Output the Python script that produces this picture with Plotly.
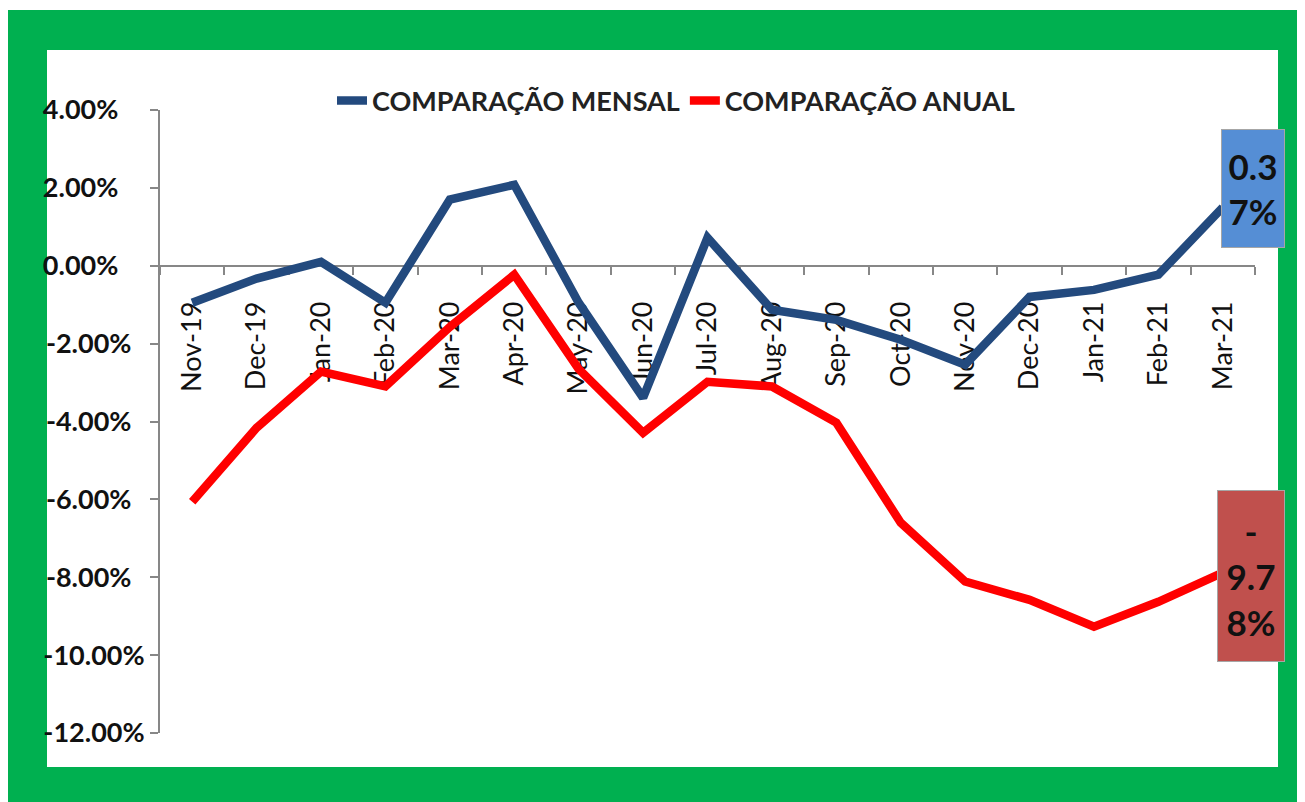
import plotly.graph_objects as go

months = ["Nov-19", "Dec-19", "Jan-20", "Feb-20", "Mar-20", "Apr-20", "May-20", "Jun-20",
          "Jul-20", "Aug-20", "Sep-20", "Oct-20", "Nov-20", "Dec-20", "Jan-21", "Feb-21", "Mar-21"]
mensal = [-0.95, -0.33, 0.10, -0.95, 1.70, 2.08, -0.95, -3.39, 0.72, -1.13,
          -1.39, -1.90, -2.54, -0.80, -0.62, -0.23, 1.50]
anual = [-6.06, -4.16, -2.72, -3.10, -1.57, -0.23, -2.65, -4.29, -2.98, -3.10,
         -4.03, -6.60, -8.11, -8.58, -9.27, -8.63, -7.88]
y_ticks = [4, 2, 0, -2, -4, -6, -8, -10, -12]
y_tick_text = ["4.00%", "2.00%", "0.00%", "-2.00%", "-4.00%", "-6.00%", "-8.00%", "-10.00%", "-12.00%"]
mensal_label = "0.3<br>7%"
anual_label = "-<br>9.7<br>8%"

# the page has an 8px body margin, so the figure is made 8px smaller
W, H = 1297, 794
L, R, T, B = 152, 50, 102, 69
PW, PH = W - L - R, H - T - B


def px(x):
    # screen x -> paper fraction
    return (x - 8 - L) / PW


def py(y):
    # screen y -> paper fraction
    return (H - B - (y - 8)) / PH


FONT = "Lato"
AXIS_GREY = "#878787"

# Excel left-aligns the y labels here, pad the short ones
longest = max(len(t) for t in y_tick_text)
y_tick_padded = [t + "\u00a0" * round(2.0 * (longest - len(t))) for t in y_tick_text]

fig = go.Figure()

fig.add_trace(go.Scatter(
    x=months, y=mensal, mode="lines", name="COMPARAÇÃO MENSAL",
    line=dict(color="#234A7E", width=8.5),
))
fig.add_trace(go.Scatter(
    x=months, y=anual, mode="lines", name="COMPARAÇÃO ANUAL",
    line=dict(color="#FF0000", width=8.5),
))

# green frame
fig.add_shape(type="rect", xref="paper", yref="paper",
              x0=px(7), x1=px(1297), y0=py(810), y1=py(10),
              fillcolor="#00B050", line_width=0, layer="below")
fig.add_shape(type="rect", xref="paper", yref="paper",
              x0=px(47), x1=px(1278), y0=py(767), y1=py(50),
              fillcolor="white", line_width=0, layer="below")

# end-point data labels
fig.add_annotation(
    x=months[-1], y=mensal[-1], xref="x", yref="y", text=mensal_label,
    showarrow=False, xanchor="left", yanchor="middle", xshift=-2, yshift=19,
    width=62, height=117, borderpad=0, bgcolor="#558ED5",
    bordercolor="#A6A6A6", borderwidth=1,
    font=dict(family=FONT, size=35, color="#111111", weight="bold"),
)
fig.add_annotation(
    x=months[-1], y=anual[-1], xref="x", yref="y", text=anual_label,
    showarrow=False, xanchor="left", yanchor="middle", xshift=-6, yshift=-3,
    width=66, height=170, borderpad=0, bgcolor="#C0504D",
    bordercolor="#A6A6A6", borderwidth=1,
    font=dict(family=FONT, size=35, color="#111111", weight="bold"),
)

fig.update_layout(
    width=W, height=H,
    margin=dict(l=L, r=R, t=T, b=B),
    paper_bgcolor="white",
    plot_bgcolor="rgba(0,0,0,0)",
    showlegend=True,
    legend=dict(
        orientation="h", x=px(676), xanchor="center", y=py(101), yanchor="middle",
        font=dict(family=FONT, size=27, color="#222222", weight="bold"),
        bgcolor="rgba(0,0,0,0)", itemwidth=30, tracegroupgap=0,
    ),
    xaxis=dict(
        type="category", range=[-0.5, 16.5],
        anchor="free", position=0.75,
        showline=True, linecolor=AXIS_GREY, linewidth=2,
        ticks="outside", tickson="boundaries", ticklen=8, tickwidth=2, tickcolor=AXIS_GREY,
        tickangle=-90, ticklabelstandoff=24,
        showgrid=False, zeroline=False, layer="below traces",
        tickfont=dict(family=FONT, size=27, color="#111111"),
    ),
    yaxis=dict(
        range=[-12, 4], tickvals=y_ticks, ticktext=y_tick_padded,
        showline=True, linecolor=AXIS_GREY, linewidth=2,
        ticks="outside", ticklen=8, tickwidth=2, tickcolor=AXIS_GREY,
        showgrid=False, zeroline=False,
        tickfont=dict(family=FONT, size=27, color="#111111", weight="bold"),
    ),
)

fig.write_html("out.html")
